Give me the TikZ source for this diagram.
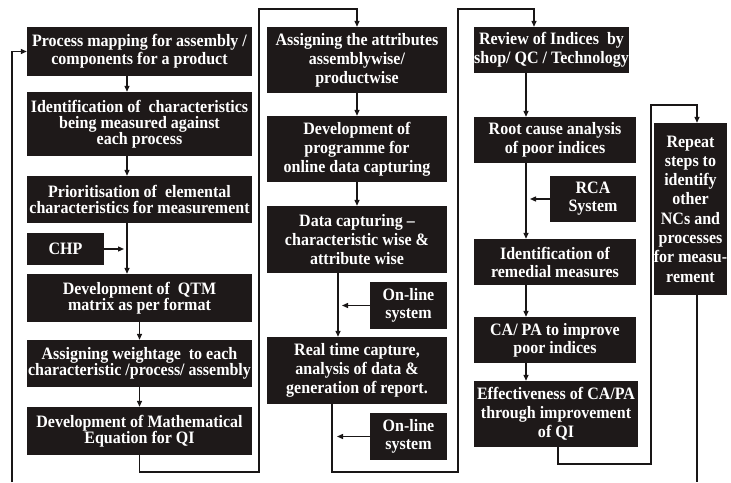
\documentclass[tikz,border=0pt]{standalone}
\usepackage{fontspec}
\setmainfont[FakeStretch=0.92]{Liberation Serif}
\usetikzlibrary{arrows.meta,calc}
\definecolor{boxfill}{RGB}{30,25,25}
\definecolor{ink}{RGB}{25,22,22}
\tikzset{
  stepbox/.style={fill=boxfill, draw=none, text=white, align=center, inner sep=0pt,
    font=\bfseries\fontsize{17.4}{19}\selectfont},
  tightbox/.style={stepbox, font=\bfseries\fontsize{17.4}{16}\selectfont},
  link/.style={draw=ink, line width=1.3pt},
  arr/.style={link, -{Triangle[length=6pt,width=5pt]}},
}
\begin{document}
\begin{tikzpicture}[x=1pt,y=-1pt]
\fill[white] (0,0) rectangle (731,482);
\useasboundingbox (0,0) rectangle (731,482);

% first column
\node[stepbox, font=\bfseries\fontsize{17.4}{18}\selectfont, minimum width=225pt, minimum height=49pt] (A) at (139.5,51.5)
  {Process mapping for assembly /\\components for a product};
\node[tightbox, minimum width=225pt, minimum height=64pt] (B) at (139.5,124)
  {Identification of \ characteristics\\being measured against\\each process};
\node[tightbox, minimum width=225pt, minimum height=47pt] (C) at (139.5,199.5)
  {Prioritisation of \ elemental\\characteristics for measurement};
\node[stepbox, minimum width=77pt, minimum height=32pt] (CHP) at (65.5,249) {CHP};
\node[tightbox, minimum width=225pt, minimum height=48pt] (D) at (139.5,298)
  {Development of \ QTM\\matrix as per format};
\node[tightbox, minimum width=225pt, minimum height=47pt] (E) at (139.5,363.5)
  {Assigning weightage \ to each\\characteristic /process/ assembly};
\node[tightbox, minimum width=225pt, minimum height=48pt] (F) at (139.5,431)
  {Development of Mathematical\\Equation for QI};

% second column
\node[stepbox, minimum width=180pt, minimum height=66pt] (G) at (357,60)
  {Assigning the attributes\\assemblywise/\\productwise};
\node[stepbox, minimum width=180pt, minimum height=66pt] (H) at (357,149)
  {Development of\\programme for\\online data capturing};
\node[stepbox, minimum width=180pt, minimum height=67pt] (I) at (357,239.5)
  {Data capturing --\\characteristic wise \&\\attribute wise};
\node[stepbox, font=\bfseries\fontsize{17.4}{18}\selectfont, minimum width=77pt, minimum height=47pt] (OL1) at (408.5,305.5)
  {On-line\\system};
\node[stepbox, minimum width=180pt, minimum height=67pt] (J) at (357,370.5)
  {Real time capture,\\analysis of data \&\\generation of report.};
\node[stepbox, font=\bfseries\fontsize{17.4}{18}\selectfont, minimum width=77pt, minimum height=47pt] (OL2) at (408.5,436.5)
  {On-line\\system};

% third column
\node[stepbox, minimum width=155pt, minimum height=46pt] (K) at (551.5,50)
  {Review of Indices \ by\\shop/ QC / Technology};
\node[stepbox, minimum width=162pt, minimum height=46pt] (L) at (555,140)
  {Root cause analysis\\of poor indices};
\node[stepbox, font=\bfseries\fontsize{17.4}{18}\selectfont, minimum width=86pt, minimum height=46pt] (RCA) at (593,199)
  {RCA\\System};
\node[stepbox, font=\bfseries\fontsize{17.4}{18}\selectfont, minimum width=162pt, minimum height=46pt] (M) at (555,262)
  {Identification of\\remedial measures};
\node[stepbox, font=\bfseries\fontsize{17.4}{18}\selectfont, minimum width=162pt, minimum height=46pt] (N) at (555,340)
  {CA/ PA to improve\\poor indices};
\node[stepbox, minimum width=164pt, minimum height=66pt] (O) at (556,414)
  {Effectiveness of CA/PA\\through improvement\\of QI};

% repeat box
\node[stepbox, font=\bfseries\fontsize{17.4}{19.3}\selectfont, minimum width=63pt, minimum height=172pt] (P) at (690.5,209)
  {Repeat\\steps to\\identify\\other\\NCs and\\processes\\for measu-\\rement};

% connector guide coordinates
\coordinate (xa) at (127,0);
\coordinate (xb) at (338,0);
\coordinate (xc) at (332,0);
\coordinate (xd) at (534,0);
\coordinate (xe) at (526,0);
\coordinate (xf) at (558,0);
\coordinate (xg) at (697,0);
\coordinate (lb) at (12,482);
\coordinate (f1) at (259,472);
\coordinate (f2) at (259,9);
\coordinate (j1) at (458,472);
\coordinate (j2) at (458,9);
\coordinate (o1) at (651,464);
\coordinate (o2) at (651,105);
\coordinate (pb) at (697,482);

% first column links
\draw[arr] (lb) |- (A.west);
\draw[arr] (A.south -| xa) -- (B.north -| xa);
\draw[arr] (B.south -| xa) -- (C.north -| xa);
\draw[arr] (C.south -| xa) -- (D.north -| xa);
\draw[arr, shorten >=3pt] (CHP.east) -- (CHP.east -| xa);
\draw[arr] (D.south) -- (E.north);
\draw[arr] (E.south) -- (F.north);
\draw[arr] (F.south) |- (f1) -- (f2) -| (G.north);

% second column links
\draw[arr] (G.south) -- (H.north);
\draw[arr] (H.south) -- (I.north);
\draw[arr] (I.south -| xb) -- (J.north -| xb);
\draw[arr, shorten >=4pt] (OL1.west) -- (OL1.west -| xb);
\draw[arr, shorten >=5pt] (OL2.west) -- (OL2.west -| xc);
\draw[arr] (J.south -| xc) |- (j1) -- (j2) -| (K.north -| xd);

% third column links
\draw[arr] (K.south -| xe) -- (L.north -| xe);
\draw[arr] (L.south -| xe) -- (M.north -| xe);
\draw[arr, shorten >=4pt] (RCA.west) -- (RCA.west -| xe);
\draw[arr] (M.south -| xe) -- (N.north -| xe);
\draw[arr] (N.south -| xe) -- (O.north -| xe);
\draw[arr] (O.south -| xf) |- (o1) -- (o2) -| (P.north -| xg);
\draw[link] (P.south -| xg) -- (pb);
\end{tikzpicture}
\end{document}
